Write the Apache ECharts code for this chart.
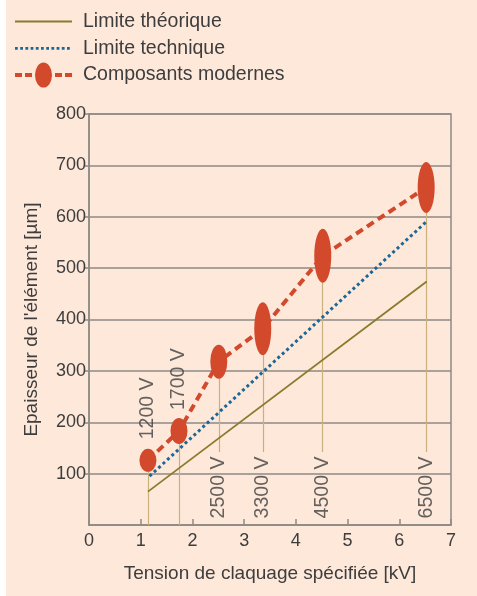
<!DOCTYPE html>
<html>
<head>
<meta charset="utf-8">
<script src="https://cdn.jsdelivr.net/npm/echarts@6/dist/echarts.min.js"></script>
<style>
  html, body { margin: 0; padding: 0; background: #ffffff; }
  #chart { position: absolute; left: 6px; top: 0; width: 471px; height: 596px; }
</style>
</head>
<body>
<div id="chart"></div>
<script>
// tension (kV) and épaisseur (µm)
const voltages = [1.14, 1.74, 2.51, 3.36, 4.52, 6.52]
const modernes = [126, 183, 318, 382, 524, 657]
const markerHeights = [23, 26, 34, 53, 54, 51]
const voltLabels = ['1200 V', '1700 V', '2500 V', '3300 V', '4500 V', '6500 V']
const voltLabelY = [227, 284, 73, 73, 73, 73]
const dropEnd = [0, 0, 142, 142, 142, 142]
const theorique = [[1.14, 65], [6.53, 474]]
const technique = [[1.17, 95], [6.52, 590]]

const textColor = '#3d3d3d'
const gridColor = '#8e8a85'

// legend icons (57 x 25 box, tiny corner marks keep the box size)
const corners = 'M0,0h0.01v0.01z M56.99,24.99h0.01v0.01z '
const olivePath = 'path://' + corners + 'M0,11.6h57v1.8h-57z'
let dots = ''
for (let x = 0; x < 56; x += 5.2) dots += 'M' + x.toFixed(1) + ',11.2h2.8v2.8h-2.8z '
const bluePath = 'path://' + corners + dots
const redPath = 'path://' + corners + 'M0,10.5h7v4h-7z M10,10.5h7v4h-7z M40,10.5h7v4h-7z M50,10.5h7v4h-7z M20,12.5a8.5,12.5 0 1,0 17,0a8.5,12.5 0 1,0 -17,0z'

const chart = echarts.init(document.getElementById('chart'))

chart.setOption({
  backgroundColor: '#fde8da',
  textStyle: { fontFamily: 'Liberation Sans, Arial, sans-serif' },
  legend: {
    orient: 'vertical',
    left: 4,
    top: 4,
    itemWidth: 57,
    itemHeight: 25,
    itemGap: 1.8,
    textStyle: { fontSize: 19.5, color: textColor, padding: [0, 0, 0, 6] },
    data: [
      { name: 'Limite théorique', icon: olivePath },
      { name: 'Limite technique', icon: bluePath },
      { name: 'Composants modernes', icon: redPath }
    ]
  },
  grid: {
    left: 83,
    right: 26,
    top: 114,
    bottom: 71,
    show: true,
    backgroundColor: 'transparent',
    borderColor: gridColor,
    borderWidth: 1.5
  },
  xAxis: {
    type: 'value',
    min: 0,
    max: 7,
    interval: 1,
    name: 'Tension de claquage spécifiée [kV]',
    nameLocation: 'middle',
    nameGap: 39,
    nameTextStyle: { fontSize: 19, color: textColor },
    axisLine: { lineStyle: { color: gridColor, width: 1.5 } },
    axisTick: { inside: true, length: 6, lineStyle: { color: gridColor, width: 1.5 } },
    axisLabel: { fontSize: 18, color: textColor, margin: 7 },
    splitLine: { show: false }
  },
  yAxis: {
    type: 'value',
    min: 0,
    max: 800,
    interval: 100,
    name: "Epaisseur de l'élément [µm]",
    nameLocation: 'middle',
    nameGap: 48,
    nameTextStyle: { fontSize: 19, color: textColor },
    axisLine: { show: true, lineStyle: { color: gridColor, width: 1.5 } },
    axisTick: { show: true, length: 5, lineStyle: { color: gridColor, width: 1.5 } },
    axisLabel: { fontSize: 18, color: textColor, margin: 3, showMinLabel: false },
    splitLine: { lineStyle: { color: gridColor, width: 1.5 } }
  },
  series: [
    {
      name: 'Limite théorique',
      type: 'line',
      symbol: 'none',
      silent: true,
      lineStyle: { color: '#8b7a2c', width: 1.8 },
      itemStyle: { color: '#8b7a2c' },
      data: theorique,
      z: 3
    },
    {
      name: 'Limite technique',
      type: 'line',
      symbol: 'none',
      silent: true,
      lineStyle: { color: '#1b6797', width: 3, type: [3, 3] },
      itemStyle: { color: '#1b6797' },
      data: technique,
      z: 3
    },
    {
      name: 'Composants modernes',
      type: 'line',
      symbol: 'circle',
      silent: true,
      lineStyle: { color: '#d2492c', width: 4, type: [8, 5] },
      itemStyle: { color: '#d2492c' },
      data: voltages.map((v, i) => ({
        value: [v, modernes[i]],
        symbolSize: [17, markerHeights[i]]
      })),
      markLine: {
        silent: true,
        symbol: 'none',
        z: 1,
        label: { show: false },
        lineStyle: { color: '#c9b07c', width: 1.2, type: 'solid' },
        data: voltages.map((v, i) => [
          { coord: [v, modernes[i]] },
          { coord: [v, dropEnd[i]] }
        ])
      },
      z: 4
    },
    {
      name: 'labels',
      type: 'scatter',
      silent: true,
      symbolSize: 1,
      itemStyle: { color: 'transparent' },
      label: {
        show: true,
        position: 'inside',
        rotate: 90,
        fontSize: 19.5,
        color: textColor,
        formatter: p => voltLabels[p.dataIndex]
      },
      data: voltages.map((v, i) => [v, voltLabelY[i]]),
      z: 5
    }
  ]
})
</script>
</body>
</html>
